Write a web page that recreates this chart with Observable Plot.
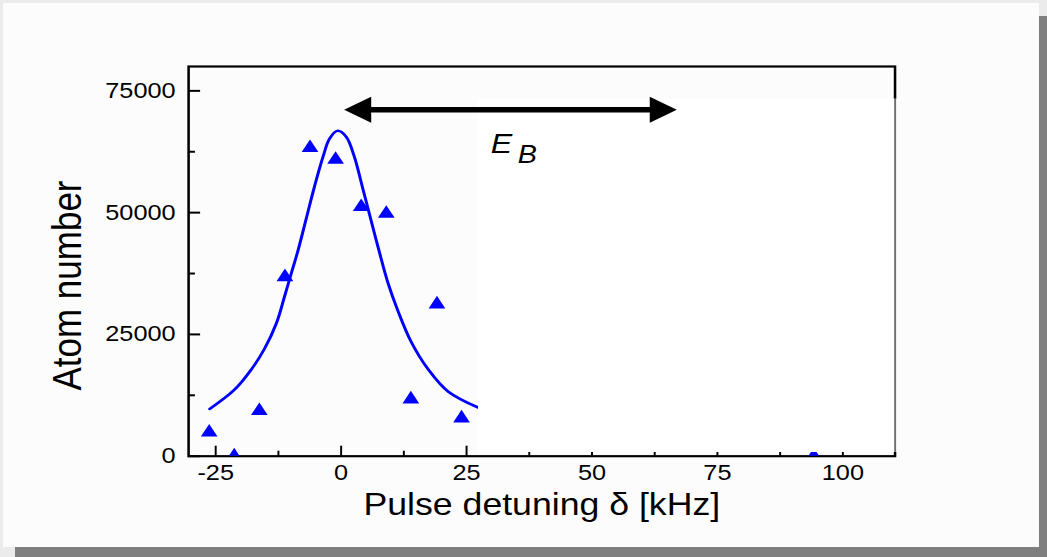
<!DOCTYPE html>
<html><head><meta charset="utf-8">
<script src="https://cdn.jsdelivr.net/npm/d3@7"></script>
<script src="https://cdn.jsdelivr.net/npm/@observablehq/plot@0.6"></script>
<style>
html,body{margin:0;padding:0;width:1047px;height:557px;overflow:hidden;background:#ebebeb;}
#shadow{position:absolute;left:15px;top:16px;width:1032px;height:541px;background:#7f7f7f;}
#card{position:absolute;left:3px;top:3px;width:1036px;height:544px;background:#fcfcfc;}
#chart{position:absolute;left:0;top:0;width:1047px;height:557px;}
</style></head><body>
<div id="shadow"></div><div id="card"></div><div id="chart"></div>
<script>
// measured data (triangles)
const detuning = [-26.3, -21.3, -16.3, -11.2, -6.2, -1.1, 4.0, 9.0, 13.9, 19.1, 24.0, 94.2];
const atoms    = [4900, 0, 9300, 36800, 63300, 60900, 51200, 49800, 11700, 31200, 7800, 0];
// fitted curve
const fitDetuning = [-26.2, -21.3, -17.9, -15.3, -12.9, -11.3, -10.0, -8.6, -7.0, -5.3, -3.6, -2.3, -0.7, 1.0, 2.6, 4.3, 6.0, 7.6, 9.3, 11.3, 13.9, 17.3, 21.3, 27.3];
const fitAtoms    = [9700, 13600, 17800, 22000, 27300, 32700, 37300, 42200, 48600, 55400, 61500, 65200, 66800, 65600, 61600, 55000, 48300, 42000, 35700, 29900, 23600, 17900, 13300, 10000];
// axes
const xDomain = [-30.4, 110.4];
const yDomain = [0, 80000];
const xTicks = [-25, 0, 25, 50, 75, 100];
const xTickLabels = ["-25", "0", "25", "50", "75", "100"];
const xMinorTicks = [-12.5, 12.5, 37.5, 62.5, 87.5];
const yTicks = [0, 25000, 50000, 75000];
const yTickLabels = ["0", "25000", "50000", "75000"];
const yMinorTicks = [12500, 37500, 62500];
const xLabel = "Pulse detuning δ [kHz]";
const yLabel = "Atom number";
const yLabelAt = [-51.8, 35040];
// annotations (data coordinates)
const arrowX = [0.6, 66.9];
const arrowY = [71100];
const maskX = [27.4, 110.4];
const maskY = [760, 73300];
const ebAt = [29.8, 62290];

const points = detuning.map((x, i) => ({x, y: atoms[i]}));
const fit = fitDetuning.map((x, i) => ({x, y: fitAtoms[i]}));
const arrow = [{x1: arrowX[0], x2: arrowX[1], y: arrowY[0]}];
const mask = [{x1: maskX[0], x2: maskX[1], y1: maskY[0], y2: maskY[1]}];
const eb = [{x: ebAt[0], y: ebAt[1]}];
const yTitle = [{x: yLabelAt[0], y: yLabelAt[1], text: yLabel}];

const headRight = {draw(ctx) { ctx.moveTo(0, 0); ctx.lineTo(-23.5, -13); ctx.lineTo(-23.5, 13); ctx.closePath(); }};
const headLeft  = {draw(ctx) { ctx.moveTo(0, 0); ctx.lineTo(23.5, -13); ctx.lineTo(23.5, 13); ctx.closePath(); }};

const SX = 1.15, W = 910, H = 557;
const font = "'Liberation Sans', Arial, Helvetica, sans-serif";

const svg = Plot.plot({
  width: W, height: H,
  marginLeft: 163.5, marginRight: 132.2, marginTop: 66, marginBottom: 101.3,
  x: {domain: xDomain, label: null},
  y: {domain: yDomain, label: null},
  style: {fontFamily: font, fontSize: "22px", color: "#000", background: "transparent", overflow: "visible"},
  marks: [
    Plot.axisX(xTicks, {tickSize: -10, tickPadding: 17.8, tickFormat: d => xTickLabels[xTicks.indexOf(d)], fontSize: 22, stroke: "#000", strokeWidth: 1.7, fill: "#000", label: null}),
    Plot.axisX(xMinorTicks, {tickSize: -5, tickFormat: () => "", stroke: "#000", strokeWidth: 1.7, label: null}),
    Plot.axisY(yTicks, {tickSize: -10.5, tickPadding: 21.8, tickFormat: d => yTickLabels[yTicks.indexOf(d)], fontSize: 22, stroke: "#000", strokeWidth: 2, fill: "#000", label: null}),
    Plot.axisY(yMinorTicks, {tickSize: -6, tickFormat: () => "", stroke: "#000", strokeWidth: 2, label: null}),
    Plot.frame({stroke: "#000", strokeWidth: 2.2}),
    Plot.line(fit, {x: "x", y: "y", stroke: "#0000ff", strokeWidth: 2.6, curve: "catmull-rom"}),
    Plot.dot(points, {x: "x", y: "y", symbol: "triangle", r: 5.4, fill: "#0000ff", clip: true}),
    Plot.rect(mask, {x1: "x1", x2: "x2", y1: "y1", y2: "y2", fill: "#ffffff", insetRight: -2}),
    Plot.ruleX(mask, {x: "x2", y1: "y1", y2: "y2", stroke: "#000", strokeWidth: 0.9}),
    Plot.ruleY(arrow, {y: "y", x1: "x1", x2: "x2", stroke: "#000", strokeWidth: 5.5, insetLeft: 18, insetRight: 18}),
    Plot.dot(arrow, {x: "x1", y: "y", symbol: headLeft, r: 10, fill: "#000"}),
    Plot.dot(arrow, {x: "x2", y: "y", symbol: headRight, r: 10, fill: "#000"}),
    Plot.text(eb, {x: "x", y: "y", text: () => "E", fontStyle: "italic", fontSize: 28, textAnchor: "start", lineAnchor: "bottom", fill: "#000"}),
    Plot.text(eb, {x: "x", y: "y", text: () => "B", fontStyle: "italic", fontSize: 25, textAnchor: "start", lineAnchor: "bottom", dx: 23.5, dy: 10, fill: "#000"}),
    Plot.text([xLabel], {frameAnchor: "bottom", text: d => d, dy: 58.3, lineAnchor: "bottom", fontSize: 31, fill: "#000"}),
    Plot.text(yTitle, {x: "x", y: "y", text: "text", rotate: -90, lineAnchor: "bottom", textAnchor: "middle", fontSize: 35, fill: "#000"})
  ]
});
svg.setAttribute("width", W * SX);
svg.setAttribute("height", H);
svg.setAttribute("viewBox", `0 0 ${W} ${H}`);
svg.setAttribute("preserveAspectRatio", "none");
svg.style.width = (W * SX) + "px";
svg.style.height = H + "px";
svg.style.maxWidth = "none";
svg.style.display = "block";
document.getElementById("chart").appendChild(svg);
</script>
</body></html>
